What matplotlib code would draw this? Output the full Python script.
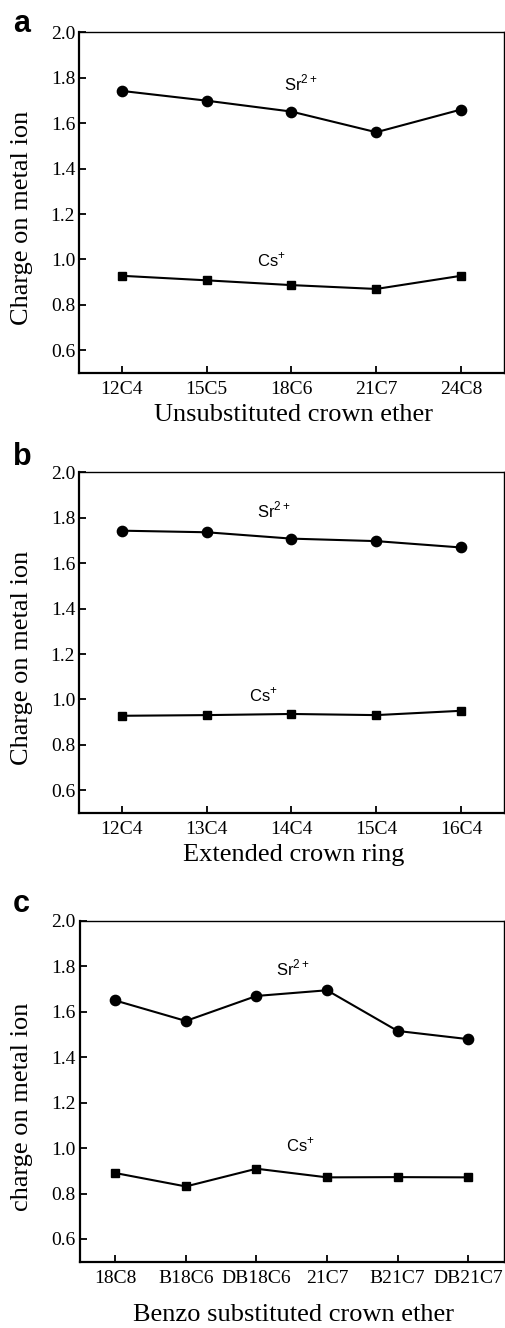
import matplotlib.pyplot as plt

plt.rcParams['font.family'] = ['Liberation Serif', 'DejaVu Serif']

# panel a
labels_a = ['12C4', '15C5', '18C6', '21C7', '24C8']
sr_a = [1.742, 1.699, 1.651, 1.560, 1.660]
cs_a = [0.928, 0.908, 0.887, 0.870, 0.928]

# panel b
labels_b = ['12C4', '13C4', '14C4', '15C4', '16C4']
sr_b = [1.743, 1.736, 1.708, 1.697, 1.669]
cs_b = [0.928, 0.931, 0.936, 0.931, 0.950]

# panel c
labels_c = ['18C8', 'B18C6', 'DB18C6', '21C7', 'B21C7', 'DB21C7']
sr_c = [1.649, 1.559, 1.669, 1.694, 1.515, 1.479]
cs_c = [0.890, 0.831, 0.909, 0.871, 0.872, 0.871]

W, H = 505, 1328
fig = plt.figure(figsize=(W / 100, H / 100), dpi=100)


def px_axes(left, top, right, bottom):
    return fig.add_axes([left / W, 1 - bottom / H, (right - left) / W, (bottom - top) / H])


def panel(ax, labels, sr, cs, xlabel, ylabel, sr_pos, cs_pos, xlab_y):
    x = list(range(len(labels)))
    ax.plot(x, sr, '-o', color='black', lw=1.5, ms=7.4)
    ax.plot(x, cs, '-s', color='black', lw=1.5, ms=6.3)
    ax.set_xlim(-0.5, len(labels) - 0.5)
    ax.set_ylim(0.5, 2.0)
    ax.set_xticks(x)
    ax.set_xticklabels(labels)
    ax.set_yticks([0.6, 0.8, 1.0, 1.2, 1.4, 1.6, 1.8, 2.0])
    ax.set_yticklabels(['0.6', '0.8', '1.0', '1.2', '1.4', '1.6', '1.8', '2.0'])
    ax.tick_params(direction='in', length=5, width=1.3, labelsize=14)
    ax.tick_params(axis='x', pad=6)
    ax.tick_params(axis='y', pad=3)
    for s in ['left', 'bottom']:
        ax.spines[s].set_linewidth(1.6)
    for s in ['top', 'right']:
        ax.spines[s].set_linewidth(1.0)
    ax.set_xlabel(xlabel, fontsize=19)
    ax.set_ylabel(ylabel, fontsize=19)
    ax.xaxis.set_label_coords(0.505, xlab_y)
    ax.yaxis.set_label_coords(-0.11, 0.455)
    ax.text(sr_pos[0], sr_pos[1], r'Sr$^{\mathregular{2+}}$', family='Liberation Sans',
            fontsize=12, va='baseline', ha='left')
    ax.text(cs_pos[0], cs_pos[1], r'Cs$^{\mathregular{+}}$', family='Liberation Sans',
            fontsize=12, va='baseline', ha='left')


ax_a = px_axes(79.3, 32.3, 503.5, 373)
panel(ax_a, labels_a, sr_a, cs_a, 'Unsubstituted crown ether', 'Charge on metal ion',
      (1.91, 1.746), (1.595, 0.969), -0.09)

ax_b = px_axes(79.3, 472.3, 503.5, 813)
panel(ax_b, labels_b, sr_b, cs_b, 'Extended crown ring', 'Charge on metal ion',
      (1.59, 1.80), (1.50, 0.991), -0.09)

ax_c = px_axes(80, 920.7, 503.5, 1261.7)
panel(ax_c, labels_c, sr_c, cs_c, 'Benzo substituted crown ether', 'charge on metal ion',
      (2.27, 1.758), (2.42, 0.985), -0.125)

for letter, base in [('a', 32), ('b', 465), ('c', 911.7)]:
    fig.text(13 / W, 1 - base / H, letter, family='Liberation Sans', fontweight='bold',
             fontsize=22, va='baseline', ha='left')

fig.savefig('out.png', dpi=100)
